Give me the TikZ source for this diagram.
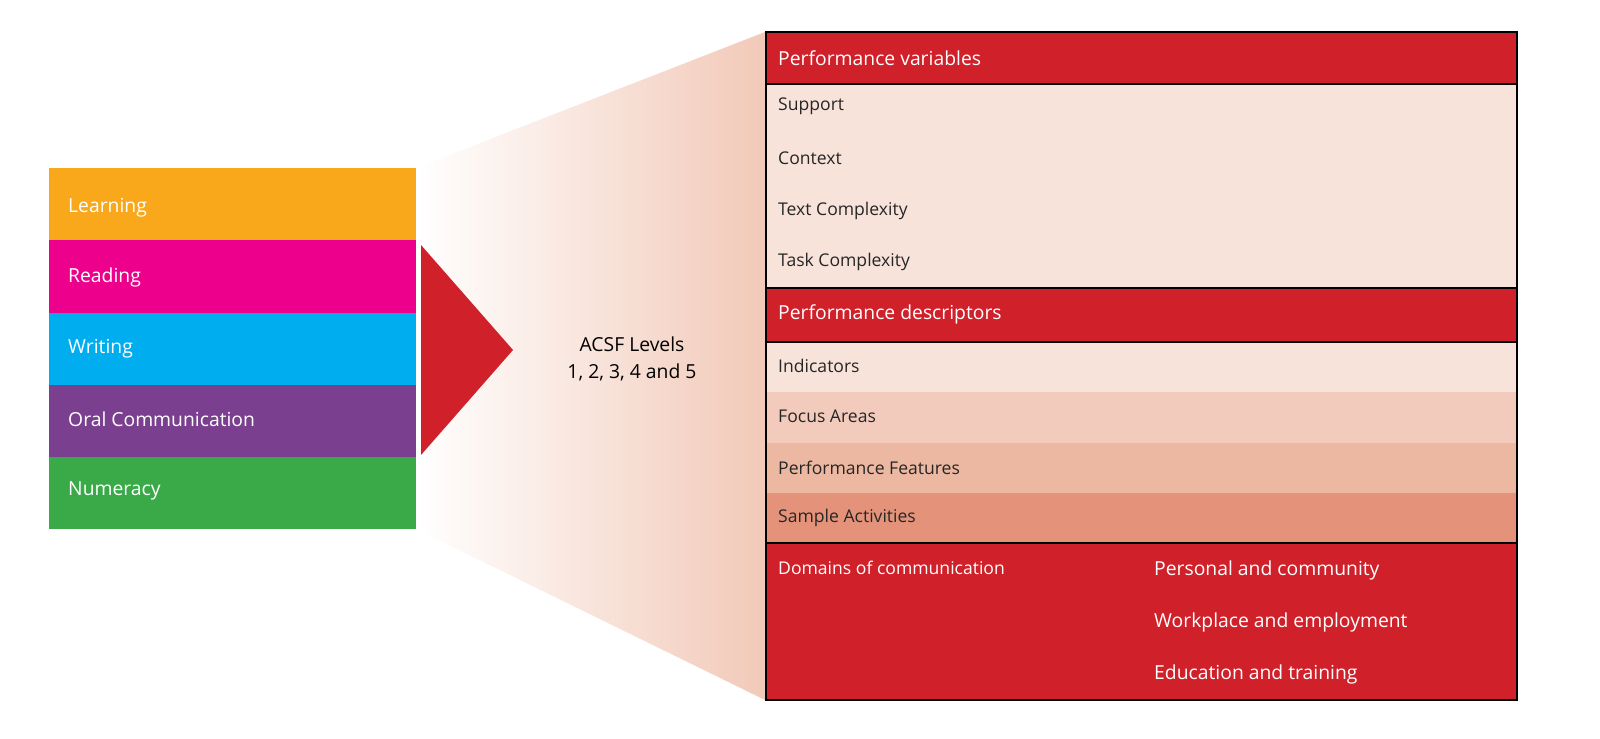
\documentclass[tikz,border=0pt]{standalone}
\usepackage{fontspec}
\setmainfont{Open Sans}
\begin{document}
\definecolor{cred}{HTML}{D0202A}
\definecolor{p1}{HTML}{F8E3DB}
\definecolor{p2}{HTML}{F2CBBC}
\definecolor{p3}{HTML}{EDB8A2}
\definecolor{p4}{HTML}{E4937A}
\definecolor{fan}{HTML}{F2C9B8}
\begin{tikzpicture}[x=0.02cm,y=-0.02cm,
  lab/.style={font=\fontsize{11}{13}\selectfont,text=white,anchor=west},
  item/.style={font=\fontsize{10}{12}\selectfont,text=black!85,anchor=west},
  row/.style={draw=black,line width=0.6pt}]
\useasboundingbox (0,0) rectangle (1600,739);
\begin{scope}
\clip (416,168) -- (765,32) -- (765,700) -- (416,529) -- cycle;
\shade[left color=white,right color=fan] (416,30) rectangle (766,702);
\end{scope}
% left boxes
\fill[color={rgb,255:red,249;green,168;blue,27}] (49,168) rectangle (416,240);
\fill[color={rgb,255:red,236;green,0;blue,140}] (49,240) rectangle (416,313);
\fill[color={rgb,255:red,0;green,174;blue,239}] (49,313) rectangle (416,385);
\fill[color={rgb,255:red,123;green,63;blue,143}] (49,385) rectangle (416,457);
\fill[color={rgb,255:red,58;green,170;blue,73}] (49,457) rectangle (416,529);
\node[lab] (l1) at (62,208) {Learning};
\node[lab] (l2) at (62,277) {Reading};
\node[lab] (l3) at (62,349) {Writing};
\node[lab] (l4) at (62,419) {Oral Communication};
\node[lab] (l5) at (62,491) {Numeracy};
\fill[cred] (421,245) -- (513,350) -- (421,455) -- cycle;
\node[font=\fontsize{11}{13}\selectfont,align=center] (acsf) at (632,359) {ACSF Levels\\[2pt]1, 2, 3, 4 and 5};
% table
\fill[cred] (766,32) rectangle (1517,84);
\fill[p1] (766,84) rectangle (1517,288);
\fill[cred] (766,288) rectangle (1517,342);
\fill[p1] (766,342) rectangle (1517,392);
\fill[p2] (766,392) rectangle (1517,443);
\fill[p3] (766,443) rectangle (1517,493);
\fill[p4] (766,493) rectangle (1517,543);
\fill[cred] (766,543) rectangle (1517,700);
\draw[row] (766,32) rectangle (1517,700);
\draw[row] (766,84) -- (1517,84);
\draw[row] (766,288) -- (1517,288);
\draw[row] (766,342) -- (1517,342);
\draw[row] (766,543) -- (1517,543);
\node[lab] (h1) at (772,58) {Performance variables};
\node[item] (s1) at (772,106) {Support};
\node[item] (s2) at (772,158) {Context};
\node[item] (s3) at (772,211) {Text Complexity};
\node[item] (s4) at (772,262) {Task Complexity};
\node[lab] (h2) at (772,314) {Performance descriptors};
\node[item] (d1) at (772,366) {Indicators};
\node[item] (d2) at (772,416) {Focus Areas};
\node[item] (d3) at (772,468) {Performance Features};
\node[item] (d4) at (772,518) {Sample Activities};
\node[lab,font=\fontsize{10}{12}\selectfont] (dom) at (772,568) {Domains of communication};
\node[lab] (o1) at (1148,570) {Personal and community};
\node[lab] (o2) at (1148,622) {Workplace and employment};
\node[lab] (o3) at (1148,674) {Education and training};
\end{tikzpicture}
\end{document}
